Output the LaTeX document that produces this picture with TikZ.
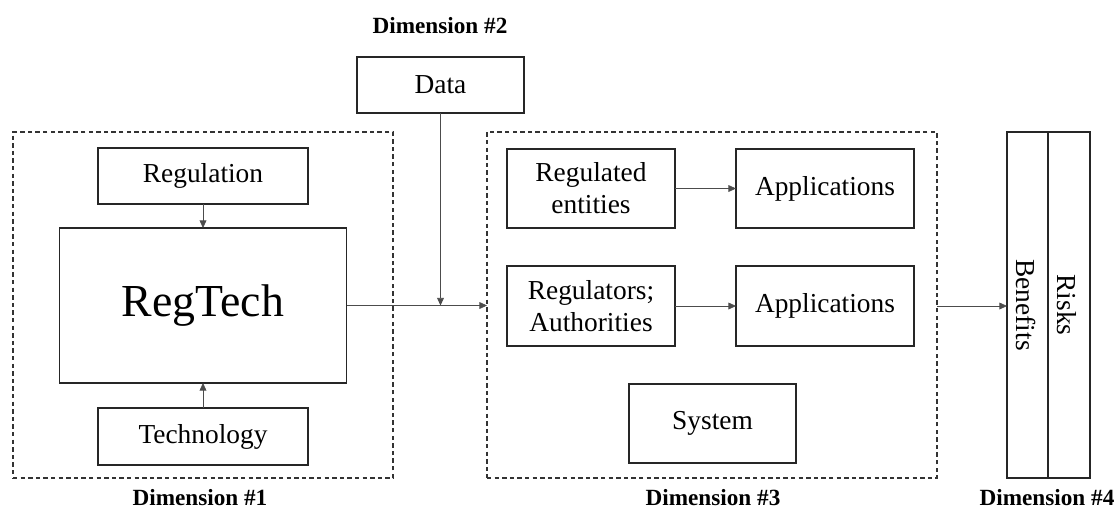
\documentclass[tikz,border=0pt]{standalone}
\usepackage{fontspec}
\setmainfont{Liberation Serif}
\usetikzlibrary{arrows.meta,calc}
\begin{document}
\begin{tikzpicture}[x=0.5pt,y=-0.5pt,
  box/.style={draw=black!85,line width=0.6pt,inner sep=0pt,outer sep=0pt,align=center,
    font=\fontsize{13.7}{16}\selectfont},
  dbox/.style={draw=black!80,line width=0.55pt,dash pattern=on 2.2pt off 1.6pt,inner sep=0pt,outer sep=0pt},
  conn/.style={draw=black!70,line width=0.4pt,-{Triangle[length=3.8pt,width=3.4pt]}},
  dimlabel/.style={font=\bfseries\fontsize{11.6}{13}\selectfont,inner sep=0pt}]
\useasboundingbox (0,0) rectangle (1118,510);
% dashed containers
\node[dbox,minimum width=190pt,minimum height=173pt] (d1) at (203,305) {};
\node[dbox,minimum width=225pt,minimum height=173pt] (d3) at (712,305) {};
% dimension 1
\node[box,minimum width=105pt,minimum height=28pt] (reg) at (203,176) {Regulation};
\node[box,minimum width=143.5pt,minimum height=77.5pt,font=\fontsize{22.9}{26}\selectfont] (rt) at (203,305.5) {RegTech};
\node[box,minimum width=105pt,minimum height=28.5pt] (tech) at (203,436.5) {Technology};
% dimension 2
\node[box,minimum width=83.5pt,minimum height=28pt] (data) at (440.5,85) {Data};
% dimension 3
\node[box,minimum width=84pt,minimum height=39.5pt] (ent) at (591,188.5) {Regulated\\entities};
\node[box,minimum width=89pt,minimum height=39.5pt] (app1) at (825,188.5) {Applications};
\node[box,minimum width=84pt,minimum height=40pt] (rgs) at (591,306) {Regulators;\\Authorities};
\node[box,minimum width=89pt,minimum height=40pt] (app2) at (825,306) {Applications};
\node[box,minimum width=83.5pt,minimum height=39.5pt] (sys) at (712.5,423.5) {System};
% dimension 4
\node[box,minimum width=20.5pt,minimum height=173pt] (ben) at (1027.5,305) {};
\node[box,minimum width=21pt,minimum height=173pt] (risk) at (1069,305) {};
\node[font=\fontsize{13.7}{16}\selectfont,rotate=-90,inner sep=0pt] (bent) at ([xshift=-1pt]ben.center) {Benefits};
\node[font=\fontsize{13.7}{16}\selectfont,rotate=-90,inner sep=0pt] (riskt) at ([xshift=-1pt]risk.center) {Risks};
% labels
\node[dimlabel] (l1) at (200,498) {Dimension \#1};
\node[dimlabel] (l2) at (440,26) {Dimension \#2};
\node[dimlabel] (l3) at (713,498) {Dimension \#3};
\node[dimlabel] (l4) at (1047,498) {Dimension \#4};
% connectors
\coordinate (join) at (data.south |- rt.east);
\draw[conn] (reg.south) -- (rt.north);
\draw[conn] (tech.north) -- (rt.south);
\draw[conn] (rt.east) -- (d3.west |- rt.east);
\draw[conn] (data.south) -- (join);
\draw[conn] (ent.east) -- (app1.west);
\draw[conn] (rgs.east) -- (app2.west);
\draw[conn] (d3.east |- rgs.east) -- (ben.west |- rgs.east);
\end{tikzpicture}
\end{document}
